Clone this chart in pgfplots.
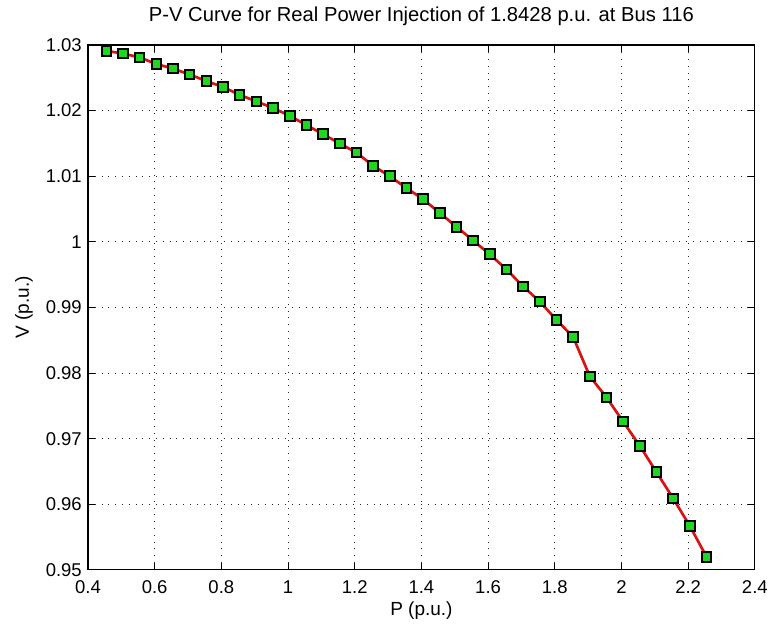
\documentclass[border=0pt]{standalone}
\usepackage{fontspec}
\setmainfont{Liberation Sans}
\usepackage{pgfplots}
\pgfplotsset{compat=1.18}
\definecolor{mred}{RGB}{215,20,20}
\definecolor{mgreen}{RGB}{30,215,30}

\begin{document}
\begin{tikzpicture}
\begin{axis}[%
    name=ax,
    scale only axis,
    width=667bp, height=525bp,
    xmin=0.4, xmax=2.4,
    ymin=0.95, ymax=1.03,
    xtick={0.4,0.6,...,2.41},
    ytick={0.95,0.96,...,1.031},
    scaled ticks=false,
    /pgf/number format/.cd, fixed, precision=2, assume math mode=true,
    /pgfplots/.cd,
    tick align=inside,
    major tick length=7bp,
    every tick/.style={black, line width=1bp},
    axis line style={black, line width=1.2bp},
    grid=major,
    major grid style={black!85, line width=0.9bp, dash pattern=on 1bp off 5.8bp},
    tick label style={font=\fontsize{18.5bp}{22bp}\selectfont},
    xticklabel style={anchor=base, yshift=-24bp},
    yticklabel style={anchor=east, inner sep=0pt, xshift=-6bp},
    title={P-V Curve for Real Power Injection of 1.8428 p.u. at Bus 116},
    title style={at={(axis description cs:0.5,1.0343)}, anchor=base,
        font=\fontsize{20.2bp}{24bp}\selectfont},
    xlabel={P (p.u.)},
    xlabel style={at={(axis description cs:0.5,-0.086)}, anchor=base, inner sep=1pt,
        font=\fontsize{19bp}{23bp}\selectfont},
    ylabel={V (p.u.)},
    ylabel style={at={(axis description cs:-0.0885,0.5)}, anchor=base, rotate=0,
        font=\fontsize{19bp}{23bp}\selectfont},
    ]
\addplot[mred, line width=2.7bp,
    mark=square*, mark size=4.8bp,
    mark options={fill=mgreen, draw=black, line width=2bp, solid}]
table {
P     V
0.455 1.0291
0.505 1.0287
0.555 1.0281
0.605 1.0271
0.655 1.0264
0.705 1.0255
0.755 1.0245
0.805 1.0236
0.855 1.0224
0.905 1.0214
0.955 1.0204
1.005 1.0192
1.055 1.0178
1.105 1.0164
1.155 1.0150
1.205 1.0136
1.255 1.0116
1.305 1.0100
1.355 1.0082
1.405 1.0065
1.455 1.0044
1.505 1.0023
1.555 1.0002
1.605 0.9981
1.655 0.9958
1.705 0.9932
1.755 0.9909
1.805 0.9881
1.855 0.9855
1.905 0.9795
1.955 0.9763
2.005 0.9726
2.055 0.9689
2.105 0.9649
2.155 0.9609
2.205 0.9567
2.255 0.9520
};
\end{axis}
\path ([xshift=-88bp,yshift=-62bp]ax.south west) rectangle ([xshift=16bp,yshift=45bp]ax.north east);
\end{tikzpicture}
\end{document}
